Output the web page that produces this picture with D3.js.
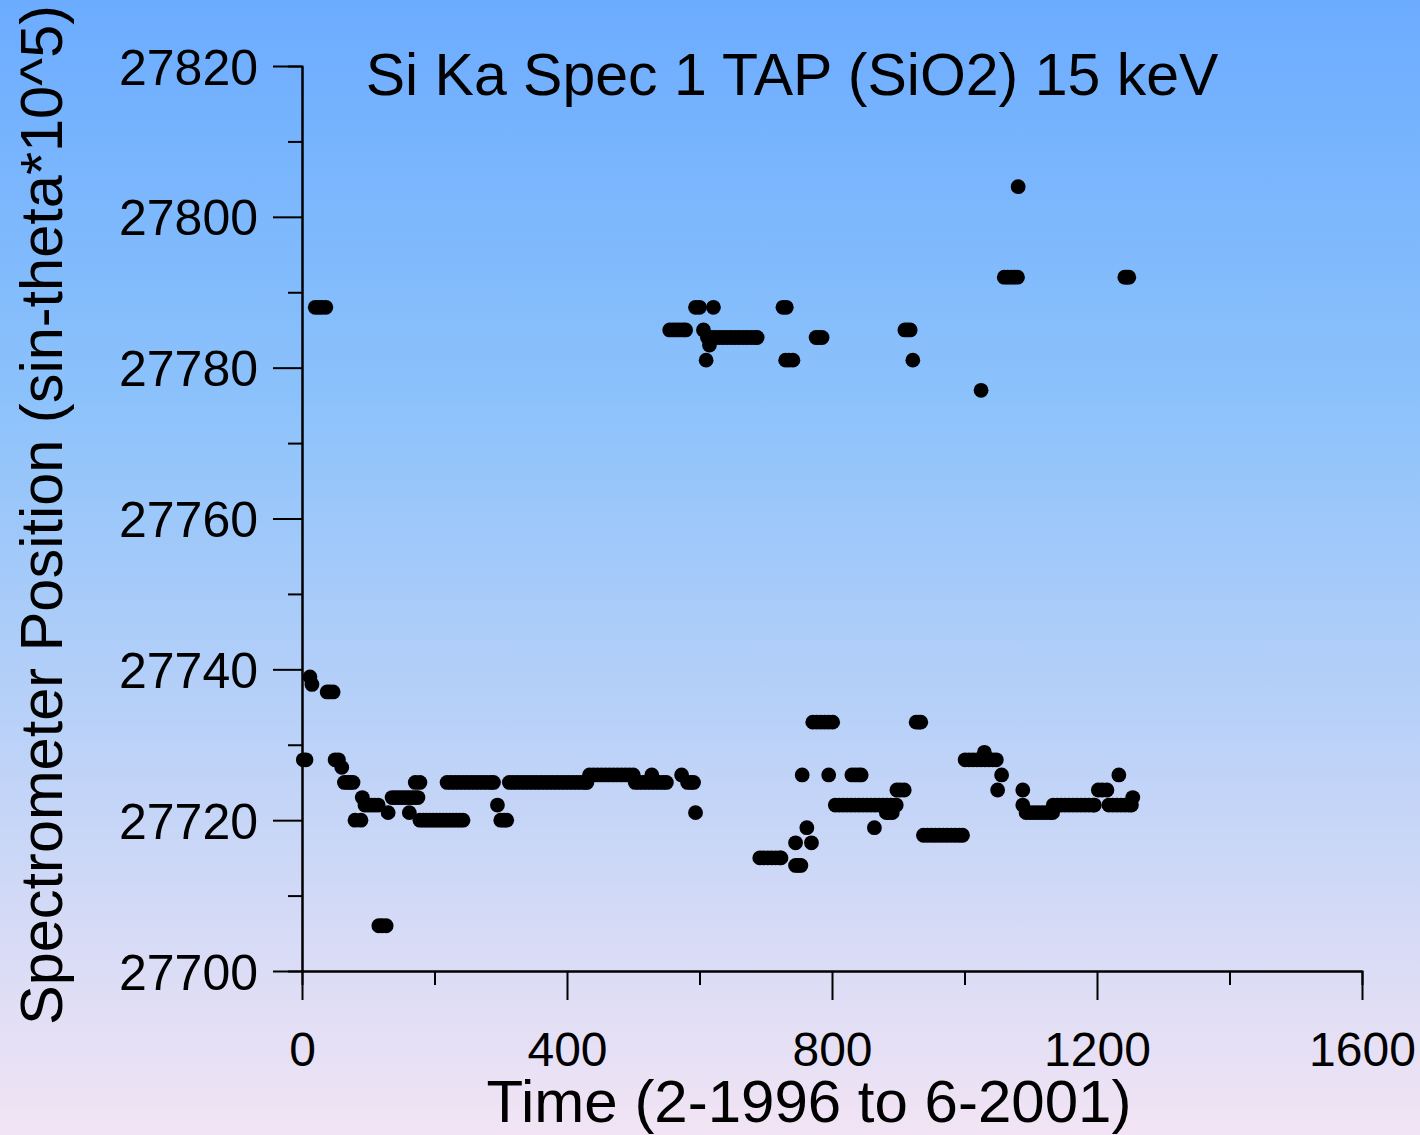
<!DOCTYPE html>
<html>
<head>
<meta charset="utf-8">
<script src="https://cdn.jsdelivr.net/npm/d3@7"></script>
<style>
  html, body { margin: 0; padding: 0; }
  svg { display: block; }
  text { font-family: "Liberation Sans", Arial, sans-serif; fill: #000; }
</style>
</head>
<body>
<svg id="chart"></svg>
<script>
const W = 1420, H = 1135;

const titleText = "Si Ka Spec 1 TAP (SiO2) 15 keV";
const xTitle = "Time (2-1996 to 6-2001)";
const yTitle = "Spectrometer Position (sin-theta*10^5)";

const xMajor = [0, 400, 800, 1200, 1600];
const xMinor = [200, 600, 1000, 1400];
const yMajor = [27700, 27720, 27740, 27760, 27780, 27800, 27820];
const yMinor = [27710, 27730, 27750, 27770, 27790, 27810];

// [time, position], first half (1996-1998)
const earlyPoints = [
  [2, 27728], [6, 27728], [12, 27739], [15, 27738],
  [20, 27788], [25, 27788], [30, 27788], [36, 27788],
  [38, 27737], [42, 27737], [47, 27737],
  [50, 27728], [55, 27728], [60, 27727],
  [64, 27725], [69, 27725], [73, 27725], [77, 27725],
  [80, 27720], [89, 27720], [91, 27723],
  [95, 27722], [100, 27722], [105, 27722], [110, 27722], [115, 27722],
  [116, 27706], [121, 27706], [127, 27706],
  [130, 27721],
  [136, 27723], [141, 27723], [146, 27723], [151, 27723], [156, 27723], [161, 27723], [166, 27723], [171, 27723], [175, 27723],
  [162, 27721], [171, 27725], [178, 27725],
  [178, 27720], [183, 27720], [188, 27720], [193, 27720], [198, 27720], [203, 27720], [208, 27720],
  [213, 27720], [218, 27720], [223, 27720], [228, 27720], [233, 27720], [238, 27720], [243, 27720],
  [219, 27725], [225, 27725], [231, 27725], [237, 27725], [243, 27725], [249, 27725], [255, 27725],
  [261, 27725], [267, 27725], [273, 27725], [279, 27725], [285, 27725], [289, 27725],
  [295, 27722], [300, 27720], [305, 27720], [309, 27720],
  [313, 27725], [319, 27725], [325, 27725], [331, 27725], [337, 27725], [343, 27725], [349, 27725],
  [355, 27725], [361, 27725], [367, 27725], [373, 27725], [379, 27725], [385, 27725], [391, 27725],
  [397, 27725], [403, 27725], [409, 27725], [415, 27725], [421, 27725], [427, 27725], [430, 27725],
  [434, 27726], [440, 27726], [446, 27726], [452, 27726], [458, 27726], [464, 27726],
  [470, 27726], [476, 27726], [482, 27726], [488, 27726], [494, 27726], [500, 27726],
  [503, 27725], [509, 27725], [515, 27725], [521, 27725], [527, 27725], [533, 27725],
  [539, 27725], [545, 27725], [550, 27725], [528, 27726],
  [555, 27785], [560, 27785], [565, 27785], [570, 27785], [575, 27785], [579, 27785],
  [573, 27726], [582, 27725], [587, 27725], [591, 27725], [594, 27721],
  [594, 27788], [600, 27788], [621, 27788], [606, 27785], [615, 27783], [610, 27781],
  [612, 27784], [618, 27784], [624, 27784], [630, 27784], [636, 27784], [642, 27784], [648, 27784],
  [654, 27784], [660, 27784], [666, 27784], [672, 27784], [678, 27784], [684, 27784], [687, 27784]
];

// second half (1998-2001)
const latePoints = [
  [691, 27715], [697, 27715], [703, 27715], [709, 27715], [715, 27715], [721, 27715], [723, 27715],
  [726, 27788], [731, 27788], [730, 27781], [735, 27781], [741, 27781],
  [745, 27717], [745, 27714], [749, 27714], [753, 27714],
  [755, 27726], [762, 27719], [769, 27717],
  [771, 27733], [777, 27733], [783, 27733], [789, 27733], [795, 27733], [801, 27733],
  [776, 27784], [780, 27784], [785, 27784], [795, 27726],
  [805, 27722], [811, 27722], [817, 27722], [823, 27722], [829, 27722], [835, 27722], [841, 27722],
  [847, 27722], [853, 27722], [859, 27722], [865, 27722], [871, 27722], [877, 27722], [883, 27722],
  [889, 27722], [895, 27722], [897, 27722],
  [830, 27726], [835, 27726], [840, 27726], [844, 27726],
  [864, 27719], [882, 27721], [886, 27721], [891, 27721],
  [898, 27724], [903, 27724], [909, 27724],
  [910, 27785], [914, 27785], [918, 27785], [922, 27781],
  [927, 27733], [931, 27733], [934, 27733],
  [938, 27718], [944, 27718], [950, 27718], [956, 27718], [962, 27718], [968, 27718],
  [974, 27718], [980, 27718], [986, 27718], [992, 27718], [997, 27718],
  [1001, 27728], [1007, 27728], [1013, 27728], [1019, 27728], [1025, 27728], [1031, 27728],
  [1037, 27728], [1043, 27728], [1048, 27728],
  [1025, 27777], [1030, 27729], [1050, 27724], [1056, 27726],
  [1060, 27792], [1065, 27792], [1070, 27792], [1075, 27792], [1080, 27792], [1081, 27804],
  [1088, 27724], [1088, 27722],
  [1093, 27721], [1099, 27721], [1105, 27721], [1111, 27721], [1117, 27721], [1123, 27721], [1129, 27721], [1133, 27721],
  [1134, 27722], [1140, 27722], [1146, 27722], [1152, 27722], [1158, 27722], [1164, 27722],
  [1170, 27722], [1176, 27722], [1182, 27722], [1188, 27722], [1194, 27722], [1196, 27722],
  [1202, 27724], [1208, 27724], [1215, 27724],
  [1218, 27722], [1224, 27722], [1230, 27722], [1236, 27722], [1242, 27722], [1248, 27722], [1252, 27722],
  [1233, 27726], [1254, 27723],
  [1242, 27792], [1245, 27792], [1248, 27792]
];

const svg = d3.select("#chart").attr("width", W).attr("height", H);

// background gradient, blue top to pale lilac bottom
const grad = svg.append("defs").append("linearGradient")
  .attr("id", "bg").attr("x1", 0).attr("y1", 0).attr("x2", 0).attr("y2", 1);
grad.append("stop").attr("offset", "0%").attr("stop-color", "#6cacff");
grad.append("stop").attr("offset", "35%").attr("stop-color", "#8cc2fb");
grad.append("stop").attr("offset", "100%").attr("stop-color", "#f2e4f4");
svg.append("rect").attr("width", W).attr("height", H).attr("fill", "url(#bg)");

const x = d3.scaleLinear().domain([0, 1600]).range([302, 1362]);
const y = d3.scaleLinear().domain([27700, 27820]).range([971, 66]);

const axisStyle = g => {
  g.select(".domain").attr("stroke", "#000").attr("stroke-width", 2);
  g.selectAll(".tick line").attr("stroke", "#000").attr("stroke-width", 2);
};

// minor ticks first so the major axis sits on top
svg.append("g")
  .attr("transform", `translate(0,${y(27700)})`)
  .call(d3.axisBottom(x).tickValues(xMinor).tickSize(14).tickFormat(""))
  .call(axisStyle);
svg.append("g")
  .attr("transform", `translate(${x(0)},0)`)
  .call(d3.axisLeft(y).tickValues(yMinor).tickSize(14).tickFormat(""))
  .call(axisStyle);

const xAxis = svg.append("g")
  .attr("transform", `translate(0,${y(27700)})`)
  .call(d3.axisBottom(x).tickValues(xMajor).tickSize(29).tickSizeOuter(0).tickPadding(32).tickFormat(d3.format("d")))
  .call(axisStyle);
xAxis.selectAll(".tick text").style("font-size", "48px").attr("dy", "0.71em");

const yAxis = svg.append("g")
  .attr("transform", `translate(${x(0)},0)`)
  .call(d3.axisLeft(y).tickValues(yMajor).tickSize(29).tickSizeOuter(0).tickPadding(15).tickFormat(d3.format("d")))
  .call(axisStyle);
yAxis.selectAll(".tick text").style("font-size", "50px").attr("dy", "0.36em");

svg.append("g")
  .selectAll("circle")
  .data(earlyPoints.concat(latePoints))
  .enter()
  .append("circle")
  .attr("cx", d => x(d[0]))
  .attr("cy", d => y(d[1]))
  .attr("r", 7.4)
  .attr("fill", "#000");

svg.append("text")
  .attr("x", 792).attr("y", 95)
  .attr("text-anchor", "middle")
  .style("font-size", "59px")
  .text(titleText);

svg.append("text")
  .attr("x", 809).attr("y", 1122)
  .attr("text-anchor", "middle")
  .style("font-size", "60px")
  .text(xTitle);

svg.append("text")
  .attr("transform", "translate(62,515) rotate(-90)")
  .attr("text-anchor", "middle")
  .style("font-size", "59.5px")
  .text(yTitle);
</script>
</body>
</html>
